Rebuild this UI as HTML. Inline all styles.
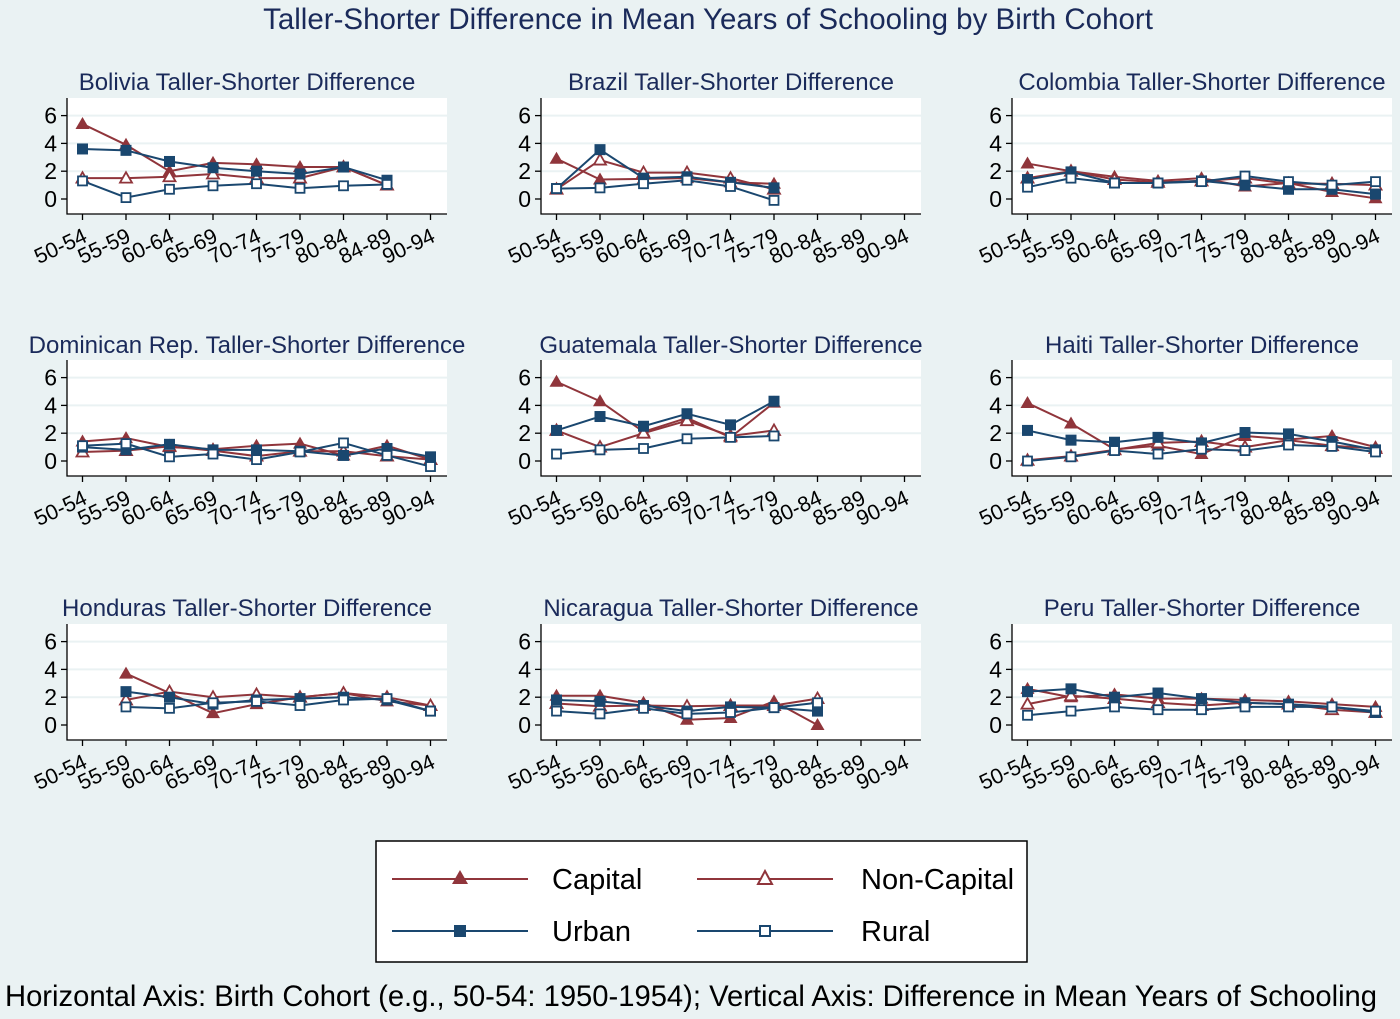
<!DOCTYPE html>
<html><head><meta charset="utf-8">
<style>
body{margin:0;background:#eaf2f3;}
svg{display:block;font-family:"Liberation Sans",Arial,sans-serif;}
</style></head>
<body>
<svg id="chart" width="1400" height="1019" viewBox="0 0 1400 1019" xmlns="http://www.w3.org/2000/svg">
<rect width="1400" height="1019" fill="#eaf2f3"/>
<text x="708" y="29" text-anchor="middle" font-size="29.5" fill="#1a2a5a">Taller-Shorter Difference in Mean Years of Schooling by Birth Cohort</text>
<g id="panels"></g>
<g>
<rect x="376" y="841" width="651" height="121" fill="#fff" stroke="#000" stroke-width="1.5"/>
<g>
<line x1="392" y1="879" x2="528" y2="879" stroke="#90353b" stroke-width="2"/>
<polygon points="460,870 468,884 452,884" fill="#90353b"/>
<text x="552" y="889" font-size="29" fill="#000">Capital</text></g>
<g>
<line x1="697" y1="879" x2="833" y2="879" stroke="#90353b" stroke-width="2"/>
<polygon points="765,871 772,884 758,884" fill="#fff" stroke="#90353b" stroke-width="2"/>
<text x="861" y="889" font-size="29" fill="#000">Non-Capital</text></g>
<g>
<line x1="392" y1="931" x2="528" y2="931" stroke="#1a476f" stroke-width="2"/>
<rect x="454" y="925" width="12" height="12" fill="#1a476f"/>
<text x="552" y="941" font-size="29" fill="#000">Urban</text></g>
<g>
<line x1="697" y1="931" x2="833" y2="931" stroke="#1a476f" stroke-width="2"/>
<rect x="760" y="926" width="10" height="10" fill="#fff" stroke="#1a476f" stroke-width="2"/>
<text x="861" y="941" font-size="29" fill="#000">Rural</text></g>
</g>
<text x="5" y="1006" font-size="29.2" fill="#000">Horizontal Axis: Birth Cohort (e.g., 50-54: 1950-1954); Vertical Axis: Difference in Mean Years of Schooling</text>
</svg>
<script>
const categories = ["50-54","55-59","60-64","65-69","70-74","75-79","80-84","85-89","90-94"];
const boliviaCategories = ["50-54","55-59","60-64","65-69","70-74","75-79","80-84","84-89","90-94"];
const yTicks = [0,2,4,6];
const countries = ["Bolivia","Brazil","Colombia","Dominican Rep.","Guatemala","Haiti","Honduras","Nicaragua","Peru"];
const N = null;
const boliviaCapital = [5.4,3.9,2.0,2.6,2.5,2.3,2.3,1.0,N];
const boliviaNonCapital = [1.5,1.5,1.6,1.8,1.5,1.5,2.3,1.0,N];
const boliviaUrban = [3.6,3.5,2.7,2.25,2.0,1.8,2.3,1.35,N];
const boliviaRural = [1.3,0.1,0.7,0.95,1.1,0.77,0.95,1.05,N];
const brazilCapital = [2.9,1.4,1.45,1.5,1.2,1.1,N,N,N];
const brazilNonCapital = [0.7,2.8,1.9,1.9,1.5,0.7,N,N,N];
const brazilUrban = [0.75,3.55,1.5,1.6,1.2,0.8,N,N,N];
const brazilRural = [0.75,0.8,1.1,1.35,0.9,-0.1,N,N,N];
const colombiaCapital = [2.55,2.0,1.6,1.3,1.5,0.9,1.15,0.5,0.05];
const colombiaNonCapital = [1.5,2.0,1.4,1.2,1.3,1.5,1.1,1.1,1.0];
const colombiaUrban = [1.4,1.95,1.15,1.15,1.3,1.0,0.7,0.7,0.35];
const colombiaRural = [0.85,1.5,1.15,1.15,1.25,1.65,1.25,1.0,1.25];
const dominicanCapital = [1.4,1.65,1.0,0.85,1.1,1.25,0.4,1.1,0.1];
const dominicanNonCapital = [0.65,0.75,1.05,0.75,0.35,0.7,0.7,0.35,0.1];
const dominicanUrban = [1.0,0.8,1.2,0.8,0.8,0.7,0.4,0.9,0.3];
const dominicanRural = [1.1,1.25,0.3,0.5,0.1,0.65,1.3,0.4,-0.4];
const guatemalaCapital = [5.7,4.3,2.1,3.1,1.7,4.2,N,N,N];
const guatemalaNonCapital = [2.2,1.0,2.0,2.9,1.8,2.2,N,N,N];
const guatemalaUrban = [2.2,3.2,2.5,3.4,2.6,4.3,N,N,N];
const guatemalaRural = [0.5,0.8,0.9,1.6,1.7,1.8,N,N,N];
const haitiCapital = [4.17,2.7,0.84,1.1,0.5,1.8,1.55,1.8,1.0];
const haitiNonCapital = [0.05,0.35,0.8,1.3,1.4,1.0,1.5,1.1,0.9];
const haitiUrban = [2.2,1.5,1.35,1.7,1.3,2.05,1.95,1.4,0.8];
const haitiRural = [0.0,0.3,0.75,0.5,0.85,0.75,1.15,1.05,0.65];
const hondurasCapital = [N,3.7,2.3,0.85,1.5,2.0,2.3,1.7,1.4];
const hondurasNonCapital = [N,1.8,2.4,2.0,2.2,2.0,2.3,2.0,1.4];
const hondurasUrban = [N,2.4,2.0,1.5,1.8,1.9,2.0,1.8,1.0];
const hondurasRural = [N,1.3,1.2,1.6,1.7,1.4,1.8,1.9,1.0];
const nicaraguaCapital = [2.1,2.1,1.6,0.38,0.5,1.7,0.0,N,N];
const nicaraguaNonCapital = [1.55,1.35,1.4,1.35,1.4,1.4,1.9,N,N];
const nicaraguaUrban = [1.8,1.7,1.4,1.0,1.3,1.25,1.0,N,N];
const nicaraguaRural = [1.0,0.8,1.2,0.8,0.9,1.25,1.6,N,N];
const peruCapital = [2.6,2.0,2.2,1.9,1.9,1.8,1.7,1.5,1.3];
const peruNonCapital = [1.5,2.1,1.9,1.6,1.4,1.6,1.5,1.1,0.9];
const peruUrban = [2.4,2.6,2.0,2.3,1.9,1.6,1.5,1.3,0.9];
const peruRural = [0.7,1.0,1.3,1.1,1.1,1.3,1.3,1.3,1.0];

const seriesByCountry = [
 [boliviaCapital,boliviaNonCapital,boliviaUrban,boliviaRural],
 [brazilCapital,brazilNonCapital,brazilUrban,brazilRural],
 [colombiaCapital,colombiaNonCapital,colombiaUrban,colombiaRural],
 [dominicanCapital,dominicanNonCapital,dominicanUrban,dominicanRural],
 [guatemalaCapital,guatemalaNonCapital,guatemalaUrban,guatemalaRural],
 [haitiCapital,haitiNonCapital,haitiUrban,haitiRural],
 [hondurasCapital,hondurasNonCapital,hondurasUrban,hondurasRural],
 [nicaraguaCapital,nicaraguaNonCapital,nicaraguaUrban,nicaraguaRural],
 [peruCapital,peruNonCapital,peruUrban,peruRural]
];
const seriesNames = ["capital","non-capital","urban","rural"];
const RED="#90353b", BLUE="#1a476f";
const colLeft=[67,541,1012], rowY0=[199,461,725], rowTitle=[90,353,616];
const NS="http://www.w3.org/2000/svg";
function mk(tag,attrs,parent){const e=document.createElementNS(NS,tag);for(const k in attrs)e.setAttribute(k,attrs[k]);parent.appendChild(e);return e;}
const root=document.getElementById('panels');
countries.forEach((c,i)=>{
 const col=i%3,row=Math.floor(i/3);
 const left=colLeft[col],right=left+380,y0=rowY0[row],unit=13.9;
 const top=y0-101,bottom=y0+15;
 const cats = i===0?boliviaCategories:categories;
 const xs=k=>left+15.5+k*((right-left-32)/8);
 const ys=v=>y0-v*unit;
 const slug=c.toLowerCase().replace(/[^a-z]+/g,'-').replace(/-$/,'');
 const g=mk('g',{},root);
 
 
 const t=mk('text',{x:(left+right)/2+(col===0?-10:0),y:rowTitle[row],'text-anchor':'middle','font-size':24,fill:'#1a2a5a'},g);
 t.textContent=c+' Taller-Shorter Difference';
 
 
 const pr=mk('rect',{x:left,y:top,width:right-left,height:bottom-top,fill:'#fff'},g);
 
 
 yTicks.forEach(v=>{
  if(v>0){const gl=mk('line',{x1:left,x2:right,y1:ys(v),y2:ys(v),stroke:'#eaf2f3','stroke-width':2},g);
   
   }
  mk('line',{x1:left-6,x2:left,y1:ys(v),y2:ys(v),stroke:'#000','stroke-width':1.3},g);
  const yl=mk('text',{x:left-10,y:ys(v)+8,'text-anchor':'end','font-size':23,fill:'#000'},g);
  yl.textContent=v;
  
  
 });
 const ax=mk('path',{d:`M${left},${top} V${bottom} H${right}`,fill:'none',stroke:'#000','stroke-width':1.3},g);
 
 
 cats.forEach((lab,k)=>{
  const x=xs(k);
  mk('line',{x1:x,x2:x,y1:bottom,y2:bottom+6,stroke:'#000','stroke-width':1.3},g);
  const xl=mk('text',{x:x+6,y:bottom+27,'text-anchor':'end','font-size':21.5,fill:'#000',transform:`rotate(-25 ${x+6} ${bottom+27})`},g);
  xl.textContent=lab;
  
  
 });
 seriesByCountry[i].forEach((vals,s)=>{
  const color=s<2?RED:BLUE, filled=(s===0||s===2);
  const sg=mk('g',{},g);
  
  
  let d='';let pen=false;
  vals.forEach((v,k)=>{if(v===null){pen=false;return;}d+=(pen?'L':'M')+xs(k)+','+ys(v)+' ';pen=true;});
  mk('path',{d:d,fill:'none',stroke:color,'stroke-width':2},sg);
  vals.forEach((v,k)=>{
   if(v===null)return;
   const x=xs(k),y=ys(v);let m;
   if(s<2){
    m=filled?mk('polygon',{points:`${x},${y-7} ${x+7},${y+5} ${x-7},${y+5}`,fill:color},sg)
            :mk('polygon',{points:`${x},${y-6} ${x+6},${y+4.5} ${x-6},${y+4.5}`,fill:'#fff',stroke:color,'stroke-width':1.8},sg);
   }else{
    m=filled?mk('rect',{x:x-5.5,y:y-5.5,width:11,height:11,fill:color},sg)
            :mk('rect',{x:x-4.5,y:y-4.5,width:9,height:9,fill:'#fff',stroke:color,'stroke-width':1.8},sg);
   }
   
   
  });
 });
});
</script>
</body></html>
